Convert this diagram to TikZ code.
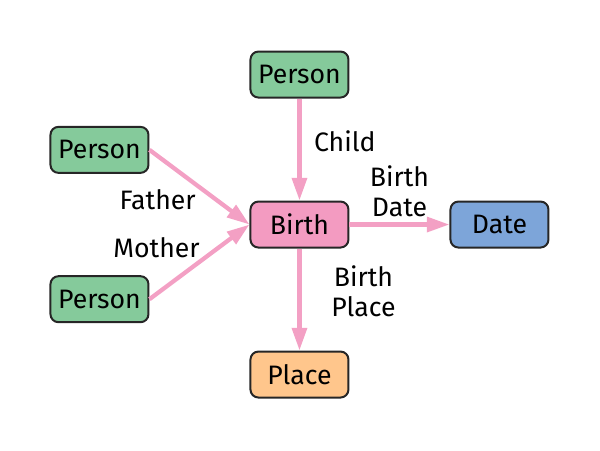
\documentclass[tikz,border=0pt]{standalone}
\usepackage{fontspec}
\setmainfont{Fira Sans}
\usepackage{xcolor}
\usetikzlibrary{positioning,arrows.meta}

\definecolor{persongreen}{RGB}{133,202,155}
\definecolor{birthpink}{RGB}{243,155,193}
\definecolor{dateblue}{RGB}{125,165,217}
\definecolor{placeorange}{RGB}{255,198,140}
\definecolor{linkpink}{RGB}{243,160,196}

\begin{document}
\begin{tikzpicture}
      [ entity/.style={draw=black!85, line width=1.5pt, rounded corners=6pt,
                       minimum width=73.5pt, minimum height=34.5pt, inner sep=0pt},
        person/.style={entity, fill=persongreen},
        link/.style={draw=linkpink, line width=3.2pt,
                     -{Triangle[length=17pt,width=11pt]}},
        every node/.style={font=\fontsize{20}{22}\selectfont}
      ]
      \useasboundingbox (0,0) rectangle (450pt,-337.5pt);

      \node[entity,fill=birthpink]   (birth)   at (224.6pt,-168.4pt) {Birth};
      \node[person]                  (child)   [above=76.5pt of birth] {Person};
      \node[entity,fill=dateblue]    (date)    [right=75pt of birth]   {Date};
      \node[entity,fill=placeorange] (place)   [below=76.5pt of birth] {Place};
      \node[person]                  (father)  [above left=20pt and 75pt of birth] {Person};
      \node[person]                  (mother)  [below left=20pt and 75pt of birth] {Person};

      \draw[link] (child)       -- node [right=6pt, pos=0.42]                  {Child}        (birth);
      \draw[link] (father.east) -- node [midway, below left=-3pt, yshift=1pt]  {Father}       (birth.west);
      \draw[link] (mother.east) -- node [midway, above left=-3pt, xshift=3pt]  {Mother}       (birth.west);
      \draw[link] (birth)       -- node [above=1pt, align=center]             {Birth\\Date}  (date);
      \draw[link] (birth)       -- node [right=19pt, pos=0.42, align=center]  {Birth\\Place} (place);

    \end{tikzpicture}
\end{document}
